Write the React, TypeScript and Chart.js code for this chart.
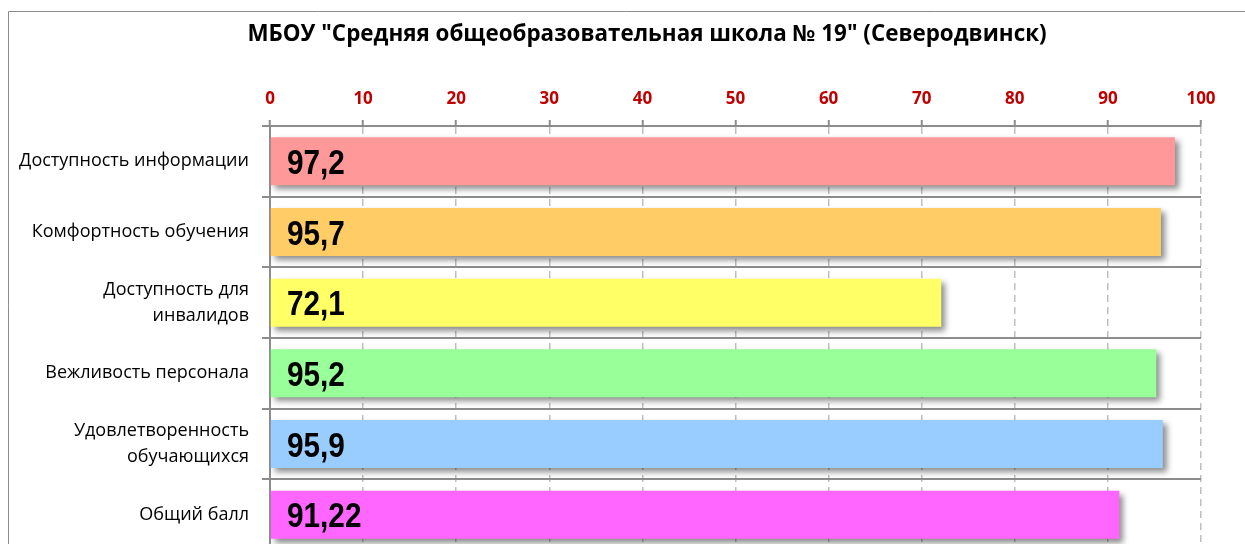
import React, { useEffect, useRef } from "react";
import { Chart, registerables } from "chart.js";

Chart.register(...registerables);

const TITLE = 'МБОУ "Средняя общеобразовательная школа № 19" (Северодвинск)';
const categories: (string | string[])[] = [
  "Доступность информации",
  "Комфортность обучения",
  ["Доступность для", "инвалидов"],
  "Вежливость персонала",
  ["Удовлетворенность", "обучающихся"],
  "Общий балл",
];
const values = [97.2, 95.7, 72.1, 95.2, 95.9, 91.22];
const barColors = ["#FF9999", "#FFCC66", "#FFFF66", "#99FF99", "#99CCFF", "#FF66FF"];
const xMin = 0;
const xMax = 100;
const xStep = 10;

const W = 1245;
const H = 600;

const decorPlugin = {
  id: "decor",
  beforeDraw(chart: any) {
    const ctx = chart.ctx;
    ctx.save();
    ctx.fillStyle = "#ffffff";
    ctx.fillRect(0, 0, chart.width, chart.height);
    ctx.strokeStyle = "#8C8C8C";
    ctx.lineWidth = 1;
    ctx.beginPath();
    ctx.moveTo(8.5, H);
    ctx.lineTo(8.5, 11.5);
    ctx.lineTo(W, 11.5);
    ctx.stroke();
    ctx.fillStyle = "#000000";
    ctx.font = 'bold 22.4px "Open Sans", sans-serif';
    ctx.textAlign = "center";
    ctx.textBaseline = "middle";
    ctx.fillText(TITLE, 647, 35);
    ctx.restore();
  },
  beforeDatasetsDraw(chart: any) {
    const ctx = chart.ctx;
    ctx.save();
    ctx.shadowColor = "rgba(0,0,0,0.45)";
    ctx.shadowBlur = 6;
    ctx.shadowOffsetX = 4;
    ctx.shadowOffsetY = 4;
  },
  afterDatasetsDraw(chart: any) {
    const ctx = chart.ctx;
    ctx.restore();
    const meta = chart.getDatasetMeta(0);
    const xs = chart.scales.x;
    const x0 = xs.getPixelForValue(0) + 17;
    meta.data.forEach((bar: any, i: number) => {
      const txt = String(values[i]).replace(".", ",");
      ctx.save();
      ctx.fillStyle = "#000000";
      ctx.font = 'bold 35px "Liberation Sans", Arial, sans-serif';
      ctx.textAlign = "left";
      ctx.textBaseline = "middle";
      ctx.translate(x0, bar.y + 3);
      ctx.scale(0.85, 1);
      ctx.fillText(txt, 0, 0);
      ctx.restore();
    });
  },
};

export default function App() {
  const ref = useRef<HTMLCanvasElement | null>(null);
  useEffect(() => {
    if (!ref.current) return;
    const chart = new Chart(ref.current, {
      type: "bar",
      data: {
        labels: categories,
        datasets: [
          {
            data: values,
            backgroundColor: barColors,
            borderWidth: 0,
            categoryPercentage: 1,
            barPercentage: 0.68,
          },
        ],
      },
      options: {
        indexAxis: "y",
        animation: false,
        responsive: false,
        devicePixelRatio: 1,
        layout: { padding: { top: 0, left: 0, right: W - 1201, bottom: H - 550 } },
        plugins: {
          legend: { display: false },
          title: { display: false },
          tooltip: { enabled: false },
        },
        scales: {
          x: {
            position: "top",
            min: xMin,
            max: xMax,
            afterFit(scale: any) {
              scale.height = 126;
            },
            ticks: {
              stepSize: xStep,
              color: "#C00000",
              padding: 11,
              font: { family: "'Open Sans', sans-serif", size: 17, weight: "bold" },
            },
            grid: {
              color: "#BFBFBF",
              lineWidth: 1.5,
              tickLength: 6,
              tickColor: "#8C8C8C",
              tickWidth: 2,
              tickBorderDash: [],
            },
            border: { display: true, color: "#8C8C8C", width: 2, dash: [7, 5] },
          },
          y: {
            afterFit(scale: any) {
              scale.width = 270;
            },
            ticks: {
              color: "#000000",
              padding: 13,
              font: { family: "'Open Sans', sans-serif", size: 18, lineHeight: 26 / 18 },
            },
            grid: {
              offset: true,
              color: "#8C8C8C",
              lineWidth: 2,
              tickLength: 8,
            },
            border: { display: true, color: "#8C8C8C", width: 2 },
          },
        },
      },
      plugins: [decorPlugin],
    } as any);
    return () => chart.destroy();
  }, []);
  return (
    <div
      style={{
        position: "fixed",
        left: 0,
        top: 0,
        width: W,
        height: 544,
        overflow: "hidden",
        background: "#fff",
      }}
    >
      <canvas ref={ref} width={W} height={H} style={{ display: "block" }} />
    </div>
  );
}
